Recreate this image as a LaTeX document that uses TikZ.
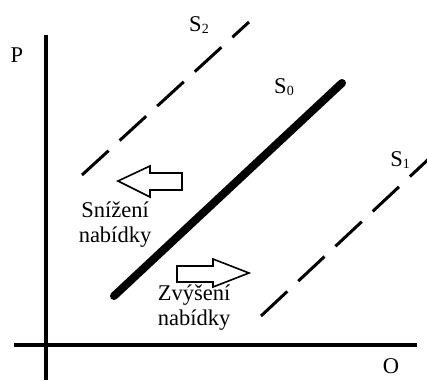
\documentclass[tikz,border=0pt]{standalone}
\usepackage{fontspec}
\setmainfont{Liberation Serif}
\newcommand{\sub}[1]{\raisebox{-2pt}{\fontsize{14}{14}\selectfont #1}}
\begin{document}
\begin{tikzpicture}[x=1pt,y=-1pt,
  axis/.style={line width=4pt},
  curve/.style={line width=8pt, line cap=round},
  shifted/.style={line width=3pt, dash pattern=on 36pt off 15pt},
  lbl/.style={inner sep=0pt, font=\fontsize{22.5}{25}\selectfont, align=center},
  blockarrow/.style={draw, line width=1.6pt, fill=white, line join=miter}]
\useasboundingbox (0,0) rectangle (427,380);
% axes
\coordinate (ytop) at (46,35);
\coordinate (ybot) at (46,380);
\coordinate (xl) at (14,345);
\coordinate (xr) at (417,345);
\draw[axis] (ytop) -- (ybot);
\draw[axis] (xl) -- (xr);
\node[lbl] (P) at (17,55) {P};
\node[lbl] (O) at (391,366) {O};
% supply curves
\coordinate (s0a) at (114,296);
\coordinate (s0b) at (342,83);
\draw[curve] (s0a) -- (s0b);
\coordinate (s2a) at (82,175);
\coordinate (s2b) at (249,22);
\draw[shifted] (s2a) -- (s2b);
\coordinate (s1a) at (261,316);
\coordinate (s1b) at (434,154);
\begin{scope}
\clip (0,0) rectangle (427,380);
\draw[shifted] (s1a) -- (s1b);
\end{scope}
\node[lbl] (S0) at (284,87) {S\sub{0}};
\node[lbl] (S2) at (199,25) {S\sub{2}};
\node[lbl] (S1) at (400,160) {S\sub{1}};
% block arrows
\draw[blockarrow] (118,181) -- (150,166) -- (150,173) -- (182,173) -- (182,190) -- (150,190) -- (150,197) -- cycle;
\draw[blockarrow] (249,273) -- (213,259) -- (213,266) -- (177,266) -- (177,282) -- (213,282) -- (213,287) -- cycle;
\node[lbl] (dec) at (115,225) {Snížení\\nabídky};
\node[lbl] (inc) at (194,308) {Zvýšení\\nabídky};
\end{tikzpicture}
\end{document}
